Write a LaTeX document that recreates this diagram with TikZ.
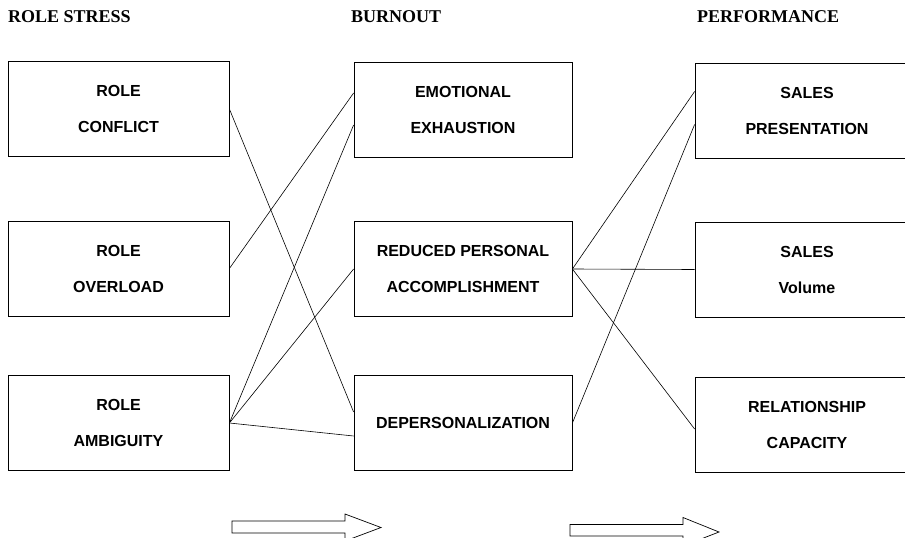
\documentclass[tikz,border=0pt]{standalone}
\usepackage{fontspec}
\setmainfont{Liberation Serif}
\setsansfont{Liberation Sans}
\newcommand{\boxfont}{\sffamily\bfseries\fontsize{16}{36}\selectfont}
\newcommand{\headfont}{\rmfamily\bfseries\fontsize{18}{20}\selectfont}
\begin{document}
\begin{tikzpicture}[x=1pt,y=-1pt,
    box/.style={draw,line width=0.8pt,minimum width=221pt,minimum height=95pt,inner sep=0pt,align=center,font=\boxfont},
    head/.style={anchor=base west,inner sep=0pt,font=\headfont},
    link/.style={line width=0.6pt},
    bigarrow/.style={line width=0.7pt,line join=miter}]
    \def\colA{118.5}
    \def\colB{463}
    \def\colC{807}
    \useasboundingbox (0,0) rectangle (905,538);
    \clip (0,0) rectangle (905,538);
    %% headings
    \node[head] (hstress) at (8,23) {ROLE STRESS};
    \node[head] (hburn) at (351,23) {BURNOUT};
    \node[head] (hperf) at (697,23) {PERFORMANCE};
    %% role stress
    \node[box] (conflict) at (\colA,109) {ROLE\\CONFLICT};
    \node[box] (overload) at (\colA,268.5) {ROLE\\OVERLOAD};
    \node[box] (ambiguity) at (\colA,423) {ROLE\\AMBIGUITY};
    %% burnout
    \node[box,minimum width=218pt] (exhaustion) at (\colB,110) {EMOTIONAL\\EXHAUSTION};
    \node[box,minimum width=218pt] (accomplish) at (\colB,269) {REDUCED PERSONAL\\ACCOMPLISHMENT};
    \node[box,minimum width=218pt] (depers) at (\colB,423) {DEPERSONALIZATION};
    %% performance
    \node[box,minimum width=224pt] (present) at (\colC,110.5) {SALES\\PRESENTATION};
    \node[box,minimum width=224pt] (volume) at (\colC,269.5) {SALES\\Volume};
    \node[box,minimum width=224pt] (relation) at (\colC,425) {RELATIONSHIP\\CAPACITY};
    %% links
    \draw[link] (conflict.east) -- ([yshift=11pt]depers.west);
    \draw[link] (overload.east) -- ([yshift=17pt]exhaustion.west);
    \draw[link] (ambiguity.east) -- ([yshift=-15pt]exhaustion.west);
    \draw[link] (ambiguity.east) -- (accomplish.west);
    \draw[link] (ambiguity.east) -- ([yshift=-13pt]depers.west);
    \draw[link] (accomplish.east) -- ([yshift=19pt]present.west);
    \draw[link] (accomplish.east) -- (volume.west);
    \draw[link] (accomplish.east) -- ([yshift=-4pt]relation.west);
    \draw[link] (depers.east) -- ([yshift=-14pt]present.west);
    %% arrows
    \draw[bigarrow] (232,521) -- (345,521) -- (345,514) -- (381,527.5) -- (345,541) -- (345,533) -- (232,533) -- cycle;
    \draw[bigarrow] (570,524.5) -- (683,524.5) -- (683,517.5) -- (719,532) -- (683,546) -- (683,536) -- (570,536) -- cycle;
\end{tikzpicture}
\end{document}
